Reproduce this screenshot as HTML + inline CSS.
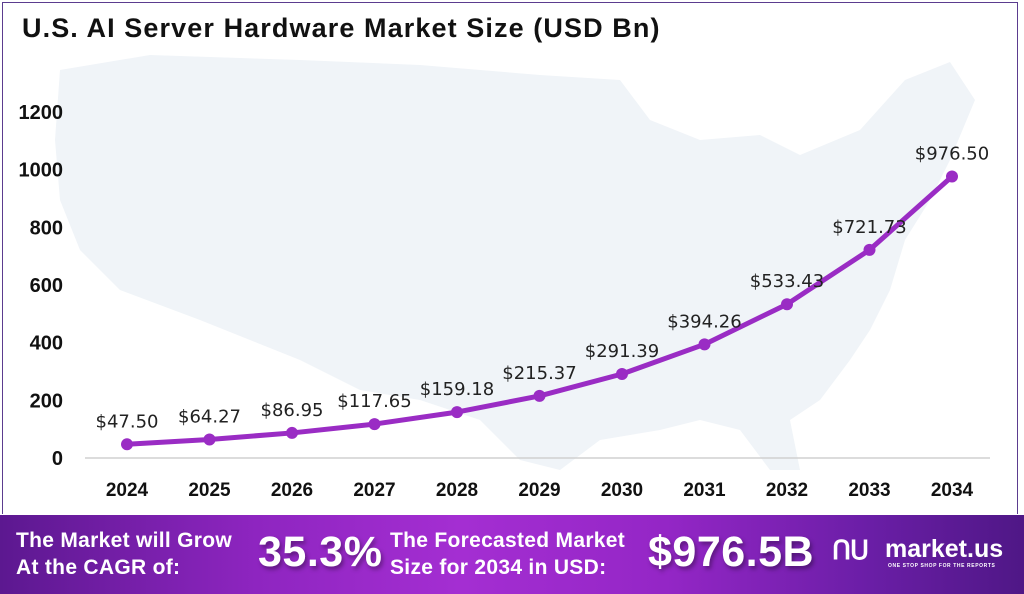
<!DOCTYPE html>
<html><head><meta charset="utf-8"><style>
body{margin:0;width:1024px;height:594px;overflow:hidden;background:#fff;font-family:"Liberation Sans",sans-serif;position:relative}
#frame{position:absolute;left:2px;top:2px;width:1016px;height:512px;border:1.5px solid #5b3c8f;border-bottom:none;box-sizing:border-box}
#title{position:absolute;left:22px;top:13px;font-size:27px;font-weight:bold;color:#111;letter-spacing:1.1px}
#footer{position:absolute;left:0;top:515px;width:1024px;height:79px;background:linear-gradient(90deg,#5c1890 0%,#8e25c0 25%,#a42ed2 45%,#9426c6 65%,#6a1ea6 85%,#4f1786 100%);color:#fff;font-weight:bold}
.ft{position:absolute;font-size:21px;line-height:27px;letter-spacing:0.3px}
.big{position:absolute;font-size:43px;top:13px;text-shadow:2px 3px 4px rgba(0,0,0,.35);letter-spacing:0.5px}
</style></head><body>
<div id="frame"></div>
<div id="title">U.S. AI Server Hardware Market Size (USD Bn)</div>
<svg id="chart" width="1024" height="515" style="position:absolute;left:0;top:0">
<polygon fill="#f0f4f8" points="60,70 150,55 300,60 420,65 540,75 620,80 650,120 700,140 760,135 800,155 860,130 905,80 950,62 975,100 950,160 930,200 905,240 890,290 870,330 850,360 820,400 790,420 800,470 770,470 740,430 700,420 660,430 600,440 560,470 520,460 480,420 420,400 360,390 300,360 250,340 200,320 120,290 80,250 60,200 55,140"/>
<g id="axes"></g><g id="series"></g>
</svg>
<div id="footer">
<div class="ft" style="left:16px;top:12px">The Market will Grow<br>At the CAGR of:</div>
<div class="big" style="left:258px">35.3%</div>
<div class="ft" style="left:390px;top:12px">The Forecasted Market<br>Size for 2034 in USD:</div>
<div class="big" style="left:648px">$976.5B</div>
<div style="position:absolute;left:832px;top:20px;font-size:26px;letter-spacing:-1px">ՈՍ</div>
<div style="position:absolute;left:885px;top:20px;font-size:25px">market.us</div>
<div style="position:absolute;left:888px;top:48px;font-size:5px;letter-spacing:.6px">ONE STOP SHOP FOR THE REPORTS</div>
</div>
<script>
const years=["2024","2025","2026","2027","2028","2029","2030","2031","2032","2033","2034"];
const values=[47.50,64.27,86.95,117.65,159.18,215.37,291.39,394.26,533.43,721.73,976.50];
const labels=["$47.50","$64.27","$86.95","$117.65","$159.18","$215.37","$291.39","$394.26","$533.43","$721.73","$976.50"];
const yTicks=[0,200,400,600,800,1000,1200];
const NS="http://www.w3.org/2000/svg";
const x=i=>127+i*82.5;
const y=v=>458-v*0.2883;
const ax=document.getElementById('axes'),se=document.getElementById('series');
function mk(t,a,p){const e=document.createElementNS(NS,t);for(const k in a)e.setAttribute(k,a[k]);p.appendChild(e);return e;}
let l=mk('line',{x1:85,x2:990,y1:458,y2:458,stroke:'#d0d0d0','stroke-width':1.5},ax);


yTicks.forEach(v=>{const t=mk('text',{x:63,y:y(v)+7,'text-anchor':'end','font-size':20,'font-weight':'bold',fill:'#111','font-family':'Liberation Sans'},ax);t.textContent=v;

});
years.forEach((yr,i)=>{const t=mk('text',{x:x(i),y:496,'text-anchor':'middle','font-size':19,'font-weight':'bold',fill:'#111','font-family':'Liberation Sans'},ax);t.textContent=yr;

});
const pts=values.map((v,i)=>x(i)+','+y(v)).join(' ');
let pl=mk('polyline',{points:pts,fill:'none',stroke:'#9a2cc4','stroke-width':5,'stroke-linejoin':'round'},se);


values.forEach((v,i)=>{const c=mk('circle',{cx:x(i),cy:y(v),r:6,fill:'#9a2cc4'},se);


const t=mk('text',{x:x(i),y:y(v)-17,'text-anchor':'middle','font-size':18,fill:'#222','font-family':'DejaVu Sans'},se);t.textContent=labels[i];

});
</script>
</body></html>
